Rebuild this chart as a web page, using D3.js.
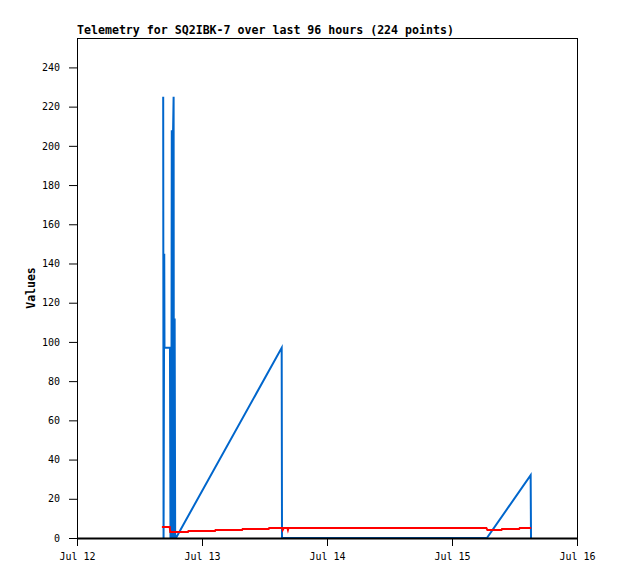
<!DOCTYPE html>
<html><head><meta charset="utf-8">
<script src="https://cdn.jsdelivr.net/npm/d3@7"></script>
<style>body{margin:0;background:#fff}svg{display:block}</style>
</head><body>
<script>
// hours since Jul 12 00:00
const titleText = "Telemetry for SQ2IBK-7 over last 96 hours (224 points)";
const yLabel = "Values";
const xTickHours = [0, 24, 48, 72, 96];
const xTickLabels = ["Jul 12", "Jul 13", "Jul 14", "Jul 15", "Jul 16"];
const yTicks = [0, 20, 40, 60, 80, 100, 120, 140, 160, 180, 200, 220, 240];

const blueHours = [16.55, 16.62, 16.75, 16.80, 17.85, 17.90, 17.95, 18.10, 18.20, 18.30, 18.45, 18.55, 18.60, 18.75, 18.85, 19.0, 39.30, 39.36, 78.70, 87.10, 87.17];
const blueValues = [225, 0, 145, 97, 97, 48, 0, 0, 208, 0, 208, 225, 0, 112, 0, 0, 97, 0, 0, 32, 0];

const redHours = [16.3, 17.8, 17.9, 21.3, 21.4, 26.5, 26.6, 31.7, 31.8, 36.8, 36.9, 39.4, 39.5, 39.7, 40.4, 40.5, 40.6, 78.6, 78.8, 81.5, 81.6, 84.9, 85.0, 87.2];
const redValues = [5.6, 5.6, 3.0, 3.0, 3.6, 3.6, 4.1, 4.1, 4.6, 4.6, 5.1, 5.1, 4.1, 5.1, 5.1, 4.1, 5.1, 5.1, 4.1, 4.1, 4.6, 4.6, 5.1, 5.1];

const W = 618, H = 579;
const L = 77, R = 577, T = 38, B = 538;
const svg = d3.select("body").append("svg").attr("width", W).attr("height", H);
const x = d3.scaleLinear().domain([0, 96]).range([L, R]);
const y = d3.scaleLinear().domain([0, 255]).range([B, T]);
const mono = "'DejaVu Sans Mono', monospace";

svg.append("rect").attr("x", L + 0.5).attr("y", T + 0.5).attr("width", R - L).attr("height", B - T)
  .attr("fill", "none").attr("stroke", "#000").attr("stroke-width", 1);

const line = d3.line().x(d => x(d[0])).y(d => y(d[1]));
svg.append("path").datum(blueHours.map((h, i) => [h, blueValues[i]]))
  .attr("d", line).attr("fill", "none").attr("stroke", "#0066cc").attr("stroke-width", 2);
svg.append("path").datum(redHours.map((h, i) => [h, redValues[i]]))
  .attr("d", line).attr("fill", "none").attr("stroke", "#ff0000").attr("stroke-width", 2);

// bottom axis
const xa = svg.append("g").attr("transform", `translate(0,${B})`)
  .call(d3.axisBottom(x).tickValues(xTickHours).tickFormat((d, i) => xTickLabels[i]).tickSize(8).tickSizeOuter(0).tickPadding(7));
xa.select(".domain").attr("stroke-width", 2);
xa.selectAll("text").attr("font-family", mono).attr("font-size", "10px").attr("fill", "#000");

// left axis
const ya = svg.append("g").attr("transform", `translate(${L},0)`)
  .call(d3.axisLeft(y).tickValues(yTicks).tickSize(8).tickSizeOuter(0).tickPadding(9));
ya.selectAll("text").attr("font-family", mono).attr("font-size", "10px").attr("fill", "#000");

svg.append("text").attr("x", L).attr("y", 34).text(titleText)
  .attr("font-family", mono).attr("font-weight", "bold").attr("font-size", "11.6px").attr("fill", "#000");

svg.append("text").attr("transform", `translate(35,${(T + B) / 2}) rotate(-90)`)
  .attr("text-anchor", "middle").text(yLabel)
  .attr("font-family", mono).attr("font-weight", "bold").attr("font-size", "11.5px").attr("fill", "#000");
</script>
</body></html>
